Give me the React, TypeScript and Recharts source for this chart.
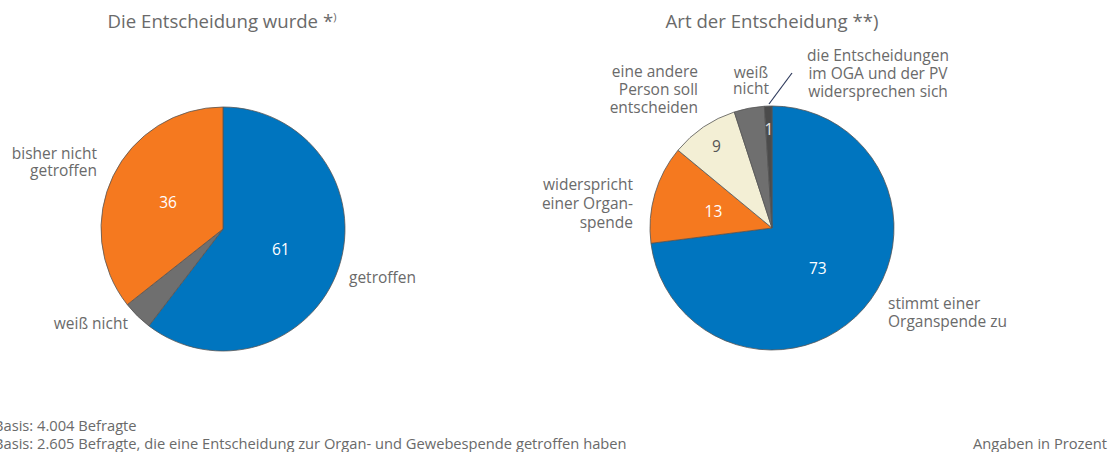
import React from "react";
import { PieChart, Pie, Cell } from "recharts";

const leftNames = ["getroffen", "weiß nicht", "bisher nicht getroffen"];
const leftValues = [61, 4, 36];
const leftShowValue = [true, false, true];
const leftColors = ["#0075BF", "#6F6F6F", "#F5791F"];

const rightNames = [
  "stimmt einer Organspende zu",
  "widerspricht einer Organspende",
  "eine andere Person soll entscheiden",
  "weiß nicht",
  "die Entscheidungen im OGA und der PV widersprechen sich",
];
const rightValues = [73, 13, 9, 4, 1];
const rightShowValue = [true, true, true, false, true];
const rightColors = ["#0075BF", "#F5791F", "#F3EFD5", "#6F6F6F", "#4B4B4B"];
const rightValueColors = ["#ffffff", "#ffffff", "#555555", "#ffffff", "#e6e6e6"];

const leftTitle = "Die Entscheidung wurde ";
const rightTitle = "Art der Entscheidung **)";
const footer1 = "Basis: 4.004 Befragte";
const footer2 = "Basis: 2.605 Befragte, die eine Entscheidung zur Organ- und Gewebespende getroffen haben";
const unitNote = "Angaben in Prozent";

const FONT = "'Open Sans', 'Noto Sans', sans-serif";
const TXT = "#6a6a6a";
const R = 122;
const LBL = 15.5;
const FOOT = 14.7;

const leftData = leftNames.map((name, i) => ({ name, value: leftValues[i], show: leftShowValue[i] }));
const rightData = rightNames.map((name, i) => ({ name, value: rightValues[i], show: rightShowValue[i] }));

const RAD = Math.PI / 180;

function makeLabel(colorFor: (i: number) => string) {
  return (props: any) => {
    const { cx, cy, midAngle, outerRadius, percent, index, payload } = props;
    const show = payload?.show ?? props.show;
    if (!show) return null;
    const r = percent < 0.1 ? outerRadius * 0.81 : outerRadius * 0.5;
    const x = cx + r * Math.cos(-midAngle * RAD);
    const y = cy + r * Math.sin(-midAngle * RAD);
    return (
      <text x={x} y={y} textAnchor="middle" dominantBaseline="central" fill={colorFor(index)} fontSize={LBL} fontFamily={FONT} fontWeight={400}>
        {props.value}
      </text>
    );
  };
}

function Lines({ lines, x, y, anchor, gap = 18 }: { lines: string[]; x: number; y: number; anchor: "start" | "middle" | "end"; gap?: number }) {
  return (
    <g>
      {lines.map((l, i) => (
        <text key={i} x={x} y={y + i * gap} textAnchor={anchor} dominantBaseline="central" fill={TXT} fontSize={LBL} fontFamily={FONT} fontWeight={400}>
          {l}
        </text>
      ))}
    </g>
  );
}

export default function App() {
  return (
    <div style={{ position: "relative", width: 1112, height: 452, background: "#fff" }}>
      <style>{"body{margin:0}"}</style>
      <PieChart width={1112} height={452} margin={{ top: 0, right: 0, bottom: 0, left: 0 }}>
        <Pie
          data={leftData}
          dataKey="value"
          cx={223}
          cy={229}
          outerRadius={R}
          startAngle={90}
          endAngle={-270}
          stroke="#555555"
          strokeWidth={0.8}
          isAnimationActive={false}
          labelLine={false}
          label={makeLabel(() => "#ffffff")}
        >
          {leftData.map((d, i) => (
            <Cell key={d.name} fill={leftColors[i]} />
          ))}
        </Pie>
        <Pie
          data={rightData}
          dataKey="value"
          cx={772}
          cy={228}
          outerRadius={R}
          startAngle={90}
          endAngle={-270}
          stroke="#555555"
          strokeWidth={0.8}
          isAnimationActive={false}
          labelLine={false}
          label={makeLabel((i) => rightValueColors[i])}
        >
          {rightData.map((d, i) => (
            <Cell key={d.name} fill={rightColors[i]} />
          ))}
        </Pie>
      </PieChart>
      <svg width={1112} height={452} style={{ position: "absolute", left: 0, top: 0, pointerEvents: "none" }}>
        <text x={222} y={20} textAnchor="middle" dominantBaseline="central" fill={TXT} fontSize={18.6} fontFamily={FONT} fontWeight={400}>
          {leftTitle}
          <tspan>*</tspan>
          <tspan fontSize={11} dy={-4}>)</tspan>
        </text>
        <text x={772} y={20} textAnchor="middle" dominantBaseline="central" fill={TXT} fontSize={18.6} fontFamily={FONT} fontWeight={400}>
          {rightTitle}
        </text>

        <Lines lines={["bisher nicht", "getroffen"]} x={97} y={153} anchor="end" gap={17} />
        <Lines lines={["weiß nicht"]} x={128} y={323} anchor="end" />
        <Lines lines={["getroffen"]} x={349} y={277} anchor="start" />

        <Lines lines={["eine andere", "Person soll", "entscheiden"]} x={698} y={71} anchor="end" />
        <Lines lines={["widerspricht", "einer Organ-", "spende"]} x={633} y={184} anchor="end" gap={19} />
        <Lines lines={["weiß", "nicht"]} x={751} y={72} anchor="middle" gap={16} />
        <Lines lines={["die Entscheidungen", "im OGA und der PV", "widersprechen sich"]} x={878} y={55} anchor="middle" gap={18} />
        <Lines lines={["stimmt einer", "Organspende zu"]} x={888} y={303} anchor="start" gap={18} />
        <line x1={769} y1={104} x2={792} y2={73} stroke="#2E3A5C" strokeWidth={1.2} />

        <text x={-6} y={425} dominantBaseline="central" fill={TXT} fontSize={FOOT} fontFamily={FONT} fontWeight={400}>
          {footer1}
        </text>
        <text x={-6} y={443} dominantBaseline="central" fill={TXT} fontSize={FOOT} fontFamily={FONT} fontWeight={400}>
          {footer2}
        </text>
        <text x={1107} y={443} textAnchor="end" dominantBaseline="central" fill={TXT} fontSize={FOOT} fontFamily={FONT} fontWeight={400}>
          {unitNote}
        </text>
      </svg>
    </div>
  );
}
